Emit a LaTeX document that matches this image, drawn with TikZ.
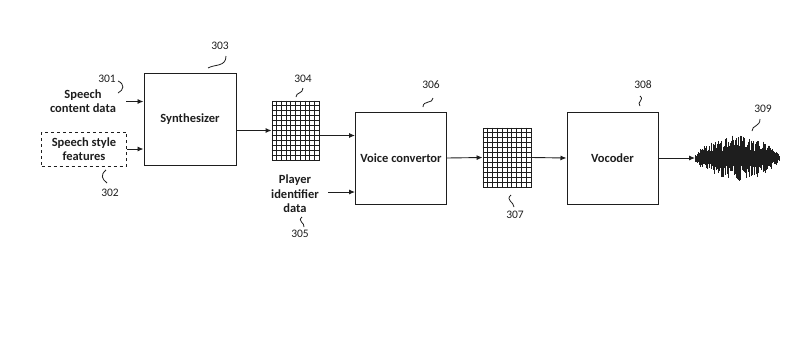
\documentclass[tikz,border=0pt]{standalone}
\usepackage{fontspec}
\setmainfont{Carlito}
\usetikzlibrary{arrows.meta,calc}
\definecolor{ink}{RGB}{30,30,30}
\begin{document}
\begin{tikzpicture}[x=1pt,y=-1pt,
  every node/.style={text=ink},
  blk/.style={draw=ink,line width=1pt,minimum width=#1,inner sep=0pt,font=\fontsize{12.5}{14}\selectfont\bfseries},
  gridbox/.style={draw=ink,line width=0.9pt,minimum width=47pt,minimum height=59pt,inner sep=0pt},
  txt/.style={align=center,font=\fontsize{12.5}{14.5}\selectfont\bfseries,inner sep=1pt},
  lbl/.style={font=\fontsize{11.5}{13}\selectfont,inner sep=0pt},
  arr/.style={draw=ink,line width=0.9pt,-{Latex[length=6pt,width=5pt]}},
  sq/.style={draw=ink,line width=0.8pt}]
\useasboundingbox (0,0) rectangle (806,349);

% blocks
\node[blk=92pt,minimum height=92pt] (synth) at (190,119) {Synthesizer};
\node[blk=91pt,minimum height=92pt] (voice) at (401,158) {Voice convertor};
\node[blk=91pt,minimum height=92pt] (voc) at (612.5,158) {Vocoder};
\node[gridbox] (g1) at (295.5,130.5) {};
\node[gridbox,minimum width=48pt] (g2) at (507,157.5) {};

% grid lines
\foreach \g in {g1,g2}{
  \foreach \i in {1,...,9}
    \draw[ink,line width=0.8pt] ($(\g.north west)!\i/10!(\g.north east)$) -- ($(\g.south west)!\i/10!(\g.south east)$);
  \foreach \j in {1,...,11}
    \draw[ink,line width=0.8pt] ($(\g.north west)!\j/12!(\g.south west)$) -- ($(\g.north east)!\j/12!(\g.south east)$);
}

% inputs
\node[txt] (sc) at (83,101) {Speech\\content data};
\node[txt,draw=ink,dashed,line width=0.9pt,minimum width=85pt,minimum height=34pt] (ss) at (84,149) {Speech style\\features};
\node[txt] (pl) at (295,194) {Player\\identifier\\data};

% connectors
\coordinate (scs) at (126,101.5);
\draw[arr] (scs) -- (synth.west |- scs);
\draw[arr] (ss.east) -- (synth.west |- ss.east);
\draw[arr] (synth.east |- g1.west) -- (g1.west);
\coordinate (g1o) at (319,135.5);
\draw[arr] (g1o) -- (voice.west |- g1o);
\coordinate (pls) at (328,192);
\draw[arr] (pls) -- (voice.west |- pls);
\draw[arr] (voice.east) -- (g2.west);
\draw[arr] (g2.east) -- (voc.west);
\coordinate (wave) at (695,158);
\draw[arr] (voc.east) -- (wave);

% waveform
\pgfmathsetseed{11}
\foreach \i in {0,...,120}{
  \pgfmathsetmacro{\xx}{695+\i*0.7}
  \pgfmathsetmacro{\ee}{3+20*pow(sin(180*(\xx-695)/84),0.7)}
  \pgfmathsetmacro{\up}{\ee*(0.35+0.65*rnd)}
  \pgfmathsetmacro{\dn}{\ee*(0.35+0.65*rnd)}
  \draw[ink,line width=0.8pt] (\xx,158-\up) -- (\xx,158+\dn);
}
\fill[ink] (697,158) .. controls (715,149) and (755,149) .. (777,158) .. controls (755,167) and (715,167) .. (697,158);

% labels and squiggles
\node[lbl] (l301) at (107,79) {301};
\draw[sq] (118,81) .. controls (125,84) and (124,90) .. (118,93);
\node[lbl] (l302) at (110,193) {302};
\draw[sq] (106,170) .. controls (100,175) and (102,179) .. (107,183);
\node[lbl] (l303) at (220,46) {303};
\draw[sq] (208,68) .. controls (215,64) and (226,67) .. (226,56);
\node[lbl] (l304) at (303,79) {304};
\draw[sq] (296,97) .. controls (296,92) and (303,94) .. (303,88);
\node[lbl] (l305) at (300,234) {305};
\draw[sq] (302,217) .. controls (297,221) and (305,223) .. (304,227);
\node[lbl] (l306) at (431,85) {306};
\draw[sq] (423,107) .. controls (423,100) and (433,104) .. (433,98);
\node[lbl] (l307) at (515,215) {307};
\draw[sq] (511,195) .. controls (505,200) and (514,202) .. (514,207);
\node[lbl] (l308) at (643,85) {308};
\draw[sq] (640,96) .. controls (645,100) and (636,102) .. (640,106);
\node[lbl] (l309) at (763,109) {309};
\draw[sq] (752,131) .. controls (752,125) and (760,127) .. (760,119);
\end{tikzpicture}
\end{document}
